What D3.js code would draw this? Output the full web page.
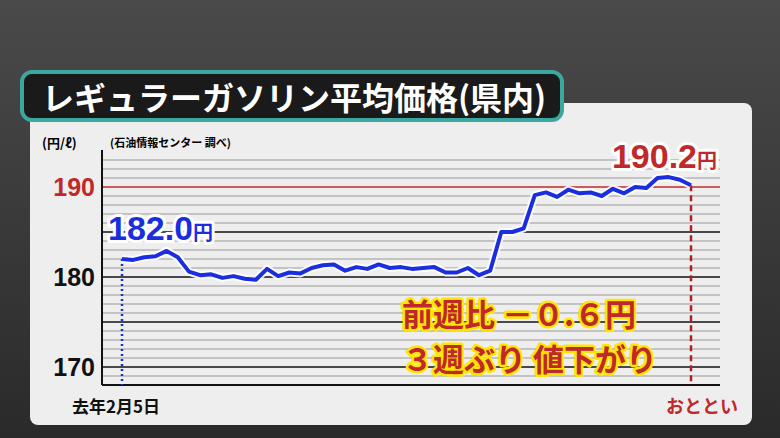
<!DOCTYPE html>
<html><head><meta charset="utf-8">
<script src="https://cdn.jsdelivr.net/npm/d3@7"></script>
<style>
body{margin:0;background:#333;}
svg{display:block;font-family:"Noto Sans CJK JP","Noto Sans",sans-serif;}
</style></head>
<body><svg id="c" width="780" height="438"></svg>
<script>
// weekly average regular gasoline price (yen/litre)
var prices = [182.0,181.9,182.2,182.3,182.9,182.2,180.6,180.2,180.3,179.9,180.1,179.8,179.7,180.9,180.1,180.5,180.4,181.0,181.3,181.4,180.7,181.1,180.9,181.4,181.0,181.1,180.9,181.0,181.1,180.5,180.5,181.0,180.2,180.7,185.0,185.0,185.4,189.1,189.4,188.9,189.7,189.3,189.4,189.0,189.8,189.3,190.0,189.9,191.0,191.1,190.8,190.2];
var yTicks = [170, 180, 190];
var title = "レギュラーガソリン平均価格(県内)";
var startLabel = "去年2月5日", endLabel = "おととい";

var svg = d3.select("#c");
var defs = svg.append("defs");
var bg = defs.append("linearGradient").attr("id","bg").attr("x1",0).attr("y1",0).attr("x2",0).attr("y2",1);
bg.append("stop").attr("offset",0).attr("stop-color","#4a4a4a");
bg.append("stop").attr("offset",1).attr("stop-color","#2a2a2a");
svg.append("rect").attr("width",780).attr("height",438).attr("fill","url(#bg)");

// panel
svg.append("rect").attr("x",30).attr("y",103).attr("width",722).attr("height",322).attr("rx",8).attr("fill","#eeeeee");

// title banner
svg.append("rect").attr("x",22).attr("y",72).attr("width",540).attr("height",48).attr("rx",10).attr("fill","#1a1a1a").attr("stroke","#3aa7a0").attr("stroke-width",4);
svg.append("text").attr("x",42).attr("y",110).attr("fill","#fff").attr("font-size",32).attr("font-weight","bold").text(title);

var x = d3.scaleLinear().domain([0, prices.length-1]).range([122, 691]);
var y = d3.scaleLinear().domain([170, 190]).range([367, 187]);
var left = 102, right = 720;

// grid
d3.range(168, 194).forEach(function(v){
  var major = v % 5 === 0;
  svg.append("line").attr("x1",left).attr("x2",right).attr("y1",y(v)).attr("y2",y(v))
    .attr("stroke", v===190 ? "#c0282a" : (major ? "#111" : "#999")).attr("stroke-width", major ? 1.5 : 1);
});
svg.append("line").attr("x1",left).attr("x2",left).attr("y1",150).attr("y2",385).attr("stroke","#111").attr("stroke-width",2);
svg.append("line").attr("x1",left).attr("x2",right).attr("y1",385).attr("y2",385).attr("stroke","#111").attr("stroke-width",2);

svg.selectAll(".yt").data(yTicks).enter().append("text")
  .attr("x",95).attr("y",function(d){return y(d)+9;}).attr("text-anchor","end")
  .attr("font-size",25).attr("font-family","Liberation Sans, Arial").attr("font-weight","bold")
  .attr("fill",function(d){return d===190?"#c0282a":"#111";}).text(function(d){return d;});
svg.append("text").attr("x",42).attr("y",148).attr("font-size",13).attr("font-weight","bold").text("(円/ℓ)");
svg.append("text").attr("x",110).attr("y",147).attr("font-size",11).attr("font-weight","bold").text("(石油情報センター 調べ)");

// guide lines
svg.append("line").attr("x1",x(0)).attr("x2",x(0)).attr("y1",y(prices[0])).attr("y2",385).attr("stroke","#1a2fd0").attr("stroke-width",2.5).attr("stroke-dasharray","2,3");
var last = prices.length-1;
svg.append("line").attr("x1",x(last)).attr("x2",x(last)).attr("y1",y(prices[last])).attr("y2",385).attr("stroke","#b02020").attr("stroke-width",2.5).attr("stroke-dasharray","6,4");

// line
var line = d3.line().x(function(d,i){return x(i);}).y(function(d){return y(d);});
svg.append("path").datum(prices).attr("d",line).attr("fill","none").attr("stroke","#fff").attr("stroke-width",8).attr("stroke-linejoin","round").attr("opacity",0.9);
svg.append("path").datum(prices).attr("d",line).attr("fill","none").attr("stroke","#1a2ee0").attr("stroke-width",4).attr("stroke-linejoin","round");

function outlined(tx, ty, big, small, fill, stroke, anchor){
  var t = svg.append("text").attr("x",tx).attr("y",ty).attr("font-weight","bold").attr("text-anchor",anchor||"start")
    .attr("fill",fill).attr("stroke",stroke).attr("stroke-width",6).attr("paint-order","stroke").attr("stroke-linejoin","round");
  t.append("tspan").attr("font-size",big).attr("font-family","Liberation Sans, Arial").text(small.v);
  t.append("tspan").attr("font-size",small.s).text("円");
  return t;
}
outlined(108, 240, 34, {v: prices[0].toFixed(1), s: 20}, "#1a2ee0", "#fff");
outlined(717, 168, 34, {v: prices[last].toFixed(1), s: 20}, "#c0282a", "#fff", "end");

svg.append("text").attr("x",402).attr("y",326).attr("font-size",31).attr("font-weight","bold").attr("fill","#c0282a")
  .attr("stroke","#ffe600").attr("stroke-width",5).attr("paint-order","stroke").attr("stroke-linejoin","round").text("前週比 －０.６円");
svg.append("text").attr("x",402).attr("y",371).attr("font-size",31).attr("font-weight","bold").attr("fill","#c0282a")
  .attr("stroke","#ffe600").attr("stroke-width",5).attr("paint-order","stroke").attr("stroke-linejoin","round").text("３週ぶり 値下がり");

svg.append("text").attr("x",72).attr("y",413).attr("font-size",17).attr("font-weight","bold").attr("fill","#111").text(startLabel);
svg.append("text").attr("x",738).attr("y",413).attr("text-anchor","end").attr("font-size",18).attr("font-weight","bold").attr("fill","#c0282a").text(endLabel);
</script></body></html>
